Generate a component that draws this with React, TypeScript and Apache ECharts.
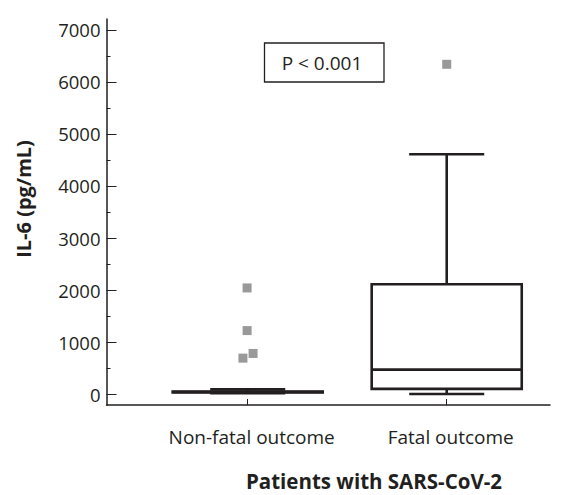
import React, { useEffect, useRef } from "react";
import * as echarts from "echarts";

const categories = ["Non-fatal outcome", "Fatal outcome"];
// [position, min, Q1, median, Q3, max]
const boxStats = [
  [1, 15, 30, 40, 50, 90],
  [2, 0, 100, 470, 2110, 4610],
];
// outliers [jittered position, value]
const outliers = [
  [0.997, 2040],
  [0.997, 1220],
  [0.976, 690],
  [1.027, 780],
  [2, 6340],
];
const majorTicks = [0, 1000, 2000, 3000, 4000, 5000, 6000, 7000];
const minorTicks = [500, 1500, 2500, 3500, 4500, 5500, 6500];
const pLabel = "P < 0.001";
const yTitle = "IL-6 (pg/mL)";
const xTitle = "Patients with SARS-CoV-2";

const FONT = "'Open Sans', 'Noto Sans', sans-serif";

export default function App() {
  const ref = useRef<HTMLDivElement>(null);
  useEffect(() => {
    if (!ref.current) return;
    const chart = echarts.init(ref.current, null, { renderer: "svg" });
    const boxW = 0.754;
    const capW = 0.377;
    chart.setOption({
      animation: false,
      backgroundColor: "#ffffff",
      grid: { left: 106.5, right: 22, top: 19, bottom: 90, containLabel: false },
      xAxis: {
        type: "value",
        min: 0.2905,
        max: 2.519,
        splitLine: { show: false },
        axisLine: { show: true, onZero: false, lineStyle: { color: "#231f20", width: 1.5 } },
        axisTick: {
          show: true,
          inside: true,
          length: 6,
          customValues: [1, 2],
          lineStyle: { color: "#231f20", width: 1 },
        },
        axisLabel: {
          show: true,
          customValues: [1, 2],
          formatter: (v: number) => categories[Math.round(v) - 1] ?? "",
          margin: 22,
          padding: [0, 0, 0, 8],
          fontFamily: FONT,
          fontSize: 19,
          color: "#231f20",
        },
      },
      yAxis: [
        {
          type: "value",
          min: -211,
          max: 7211,
          splitLine: { show: false },
          axisLine: { show: true, onZero: false, lineStyle: { color: "#231f20", width: 1.5 } },
          axisTick: {
            show: true,
            inside: true,
            length: 10,
            customValues: majorTicks,
            lineStyle: { color: "#231f20", width: 1 },
          },
          axisLabel: {
            show: true,
            customValues: majorTicks,
            formatter: (v: number) => String(v),
            margin: 6,
            fontFamily: FONT,
            fontSize: 18.5,
            color: "#231f20",
          },
        },
        {
          type: "value",
          min: -211,
          max: 7211,
          position: "left",
          splitLine: { show: false },
          axisLine: { show: false },
          axisTick: {
            show: true,
            inside: true,
            length: 4,
            customValues: minorTicks,
            lineStyle: { color: "#231f20", width: 1 },
          },
          axisLabel: { show: false },
        },
      ],
      series: [
        {
          type: "custom",
          data: boxStats,
          renderItem: (params: any, api: any) => {
            const x = api.value(0);
            const mn = api.value(1);
            const q1 = api.value(2);
            const md = api.value(3);
            const q3 = api.value(4);
            const mx = api.value(5);
            const pL = api.coord([x - boxW / 2, q3]);
            const pR = api.coord([x + boxW / 2, q1]);
            const cL = api.coord([x - capW / 2, mx]);
            const cR = api.coord([x + capW / 2, mn]);
            const c = api.coord([x, md]);
            const yMax = api.coord([x, mx])[1];
            const yMin = api.coord([x, mn])[1];
            const yQ1 = pR[1];
            const yQ3 = pL[1];
            const st = { stroke: "#231f20", lineWidth: 2.6, fill: "none" };
            return {
              type: "group",
              children: [
                { type: "line", shape: { x1: c[0], y1: yMax, x2: c[0], y2: yQ3 }, style: st },
                { type: "line", shape: { x1: c[0], y1: yQ1, x2: c[0], y2: yMin }, style: st },
                { type: "line", shape: { x1: cL[0], y1: yMax, x2: cR[0], y2: yMax }, style: st },
                { type: "line", shape: { x1: cL[0], y1: yMin, x2: cR[0], y2: yMin }, style: st },
                {
                  type: "rect",
                  shape: { x: pL[0], y: yQ3, width: pR[0] - pL[0], height: yQ1 - yQ3 },
                  style: { stroke: "#231f20", lineWidth: 2.6, fill: "#ffffff" },
                },
                { type: "line", shape: { x1: pL[0], y1: c[1], x2: pR[0], y2: c[1] }, style: st },
              ],
            };
          },
          z: 2,
        },
        {
          type: "scatter",
          data: outliers,
          symbol: "rect",
          symbolSize: 9,
          itemStyle: { color: "#808080" },
          z: 3,
        },
      ],
      graphic: [
        {
          type: "rect",
          shape: { x: 264.5, y: 43, width: 119.5, height: 39 },
          style: { stroke: "#231f20", lineWidth: 1.3, fill: "#ffffff" },
        },
        {
          type: "text",
          x: 322,
          y: 62.5,
          style: {
            text: pLabel,
            fontFamily: FONT,
            fontSize: 19,
            fill: "#231f20",
            align: "center",
            verticalAlign: "middle",
          },
        },
        {
          type: "text",
          x: 23.5,
          y: 199,
          rotation: Math.PI / 2,
          style: {
            text: yTitle,
            fontFamily: FONT,
            fontSize: 20,
            fontWeight: "bold",
            fill: "#231f20",
            align: "center",
            verticalAlign: "middle",
          },
        },
        {
          type: "text",
          x: 374,
          y: 481,
          style: {
            text: xTitle,
            fontFamily: FONT,
            fontSize: 20.5,
            fontWeight: "bold",
            fill: "#231f20",
            align: "center",
            verticalAlign: "middle",
          },
        },
      ],
    });
    return () => chart.dispose();
  }, []);
  return (
    <div
      ref={ref}
      style={{ width: 572, height: 495, position: "absolute", left: 0, top: 0 }}
    />
  );
}
